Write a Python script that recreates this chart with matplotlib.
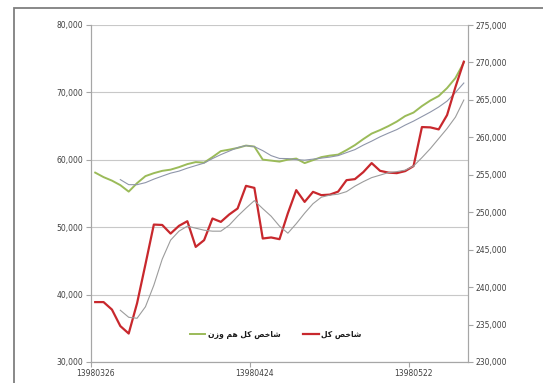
import unicodedata
import numpy as np
import matplotlib
matplotlib.use("Agg")
import matplotlib.pyplot as plt
from matplotlib.patches import Rectangle
from matplotlib.ticker import FuncFormatter, FixedLocator

# ---------------- data ----------------
x_labels = ["13980326", "13980424", "13980522"]
x_label_idx = [0, 19, 38]

label_total = "شاخص کل"
label_equal = "شاخص کل هم وزن"

# شاخص کل (right axis)
total_index = [238000, 238000, 237000, 234800, 233800, 237850, 243050, 248350, 248300, 247150,
               248180, 248800, 245370, 246270, 249160, 248710, 249700, 250500, 253520, 253250,
               246490, 246630, 246400, 249870, 252950, 251380, 252720, 252280, 252350, 252750,
               254280, 254420, 255350, 256560, 255530, 255290, 255220, 255490, 256160, 261370,
               261330, 261060, 262970, 266710, 270100]
# moving average of شاخص کل (right axis)
total_ma = [None, None, None, 236910, 235970, 235840, 237380, 240250, 243730, 246270,
            247470, 248140, 247870, 247600, 247470, 247470, 248270, 249470, 250540, 251550,
            250480, 249470, 248140, 247200, 248470, 249870, 251140, 252010, 252280, 252410,
            252750, 253480, 254080, 254620, 254950, 255290, 255420, 255620, 256160, 257290,
            258490, 259830, 261170, 262700, 264980]
# شاخص کل هم وزن (left axis)
equal_index = [58100, 57430, 56910, 56240, 55280, 56540, 57580, 58020, 58360, 58540,
               58910, 59360, 59660, 59580, 60400, 61290, 61510, 61760, 62110, 61960,
               60030, 59880, 59730, 60030, 60180, 59510, 59950, 60400, 60620, 60770,
               61440, 62180, 63070, 63890, 64410, 65000, 65670, 66490, 67010, 67970,
               68790, 69460, 70640, 72130, 74430]
# moving average of شاخص کل هم وزن (left axis)
equal_ma = [None, None, None, 57060, 56310, 56310, 56610, 57130, 57580, 58020,
            58320, 58760, 59140, 59510, 60180, 60770, 61290, 61810, 62110, 61960,
            61360, 60620, 60200, 60180, 60030, 59950, 60100, 60250, 60400, 60620,
            61070, 61510, 62180, 62770, 63410, 63960, 64480, 65150, 65740, 66410,
            67080, 67820, 68710, 69980, 71390]

left_ticks = [30000, 40000, 50000, 60000, 70000, 80000]
right_ticks = [230000, 235000, 240000, 245000, 250000, 255000, 260000, 265000, 270000, 275000]

# ---------------- helpers ----------------
_NAMES = {'ش': 'SHEEN', 'ا': 'ALEF', 'خ': 'KHAH', 'ص': 'SAD', 'ک': 'KEHEH', 'ل': 'LAM',
          'ه': 'HEH', 'م': 'MEEM', 'و': 'WAW', 'ز': 'ZAIN', 'ن': 'NOON', 'ی': 'FARSI YEH'}
_RIGHT_ONLY = set('اوزدذرژ')


def shape_rtl(s):
    out = []
    for k, c in enumerate(s):
        if c not in _NAMES:
            out.append(c)
            continue
        prev = s[k - 1] if k > 0 else ''
        nxt = s[k + 1] if k + 1 < len(s) else ''
        jp = prev in _NAMES and prev not in _RIGHT_ONLY
        jn = c not in _RIGHT_ONLY and nxt in _NAMES
        form = {(False, False): 'ISOLATED', (True, False): 'FINAL',
                (False, True): 'INITIAL', (True, True): 'MEDIAL'}[(jp, jn)]
        try:
            out.append(unicodedata.lookup(f'ARABIC LETTER {_NAMES[c]} {form} FORM'))
        except KeyError:
            out.append(c)
    return ''.join(reversed(out))


def to_arr(v):
    return np.array([np.nan if a is None else a for a in v], dtype=float)


# ---------------- figure ----------------
plt.rcParams['font.family'] = ['DejaVu Sans']
W, H = 543, 383
fig = plt.figure(figsize=(W / 100, H / 100), dpi=100)
fig.patch.set_facecolor('white')

# outer chart border
fig.patches.append(Rectangle((14 / W, -0.02), 1.1, 1 - 8 / H + 0.02, transform=fig.transFigure,
                             fill=False, edgecolor='#7f7f7f', linewidth=1.3, zorder=0))

L, R, T, B = 91, 468, 25, 362
ax = fig.add_axes([L / W, 1 - B / H, (R - L) / W, (B - T) / H])
ax2 = ax.twinx()

n = len(total_index)
x = np.arange(n)

grid_c = '#c8c8c8'
axis_c = '#a6a6a6'
text_c = '#404040'

ax.plot(x, to_arr(equal_index), color='#9bbb59', lw=1.4, zorder=3, label=shape_rtl(label_equal))
ax.plot(x, to_arr(equal_ma), color='#8f96aa', lw=0.8, zorder=4)
ax2.plot(x, to_arr(total_index), color='#c8282d', lw=1.6, zorder=3, label=shape_rtl(label_total))
ax2.plot(x, to_arr(total_ma), color='#9c9c9c', lw=0.8, zorder=4)

ax.set_xlim(-0.5, n - 0.5)
ax.set_ylim(left_ticks[0], left_ticks[-1])
ax2.set_ylim(right_ticks[0], right_ticks[-1])

fmt = FuncFormatter(lambda v, p: f"{int(v):,}")
ax.yaxis.set_major_locator(FixedLocator(left_ticks))
ax.yaxis.set_major_formatter(fmt)
ax2.yaxis.set_major_locator(FixedLocator(right_ticks))
ax2.yaxis.set_major_formatter(fmt)

ax.set_xticks(x_label_idx)
ax.set_xticklabels(x_labels)
ax.set_xticks([-0.5, 18.5, 37.5], minor=True)
ax.tick_params(axis='x', which='major', length=0, pad=5, labelsize=5.5, labelcolor=text_c)
ax.tick_params(axis='x', which='minor', length=3.5, color=axis_c, width=0.8)

ax.tick_params(axis='y', length=3.5, color=axis_c, width=0.8, labelsize=5.5, labelcolor=text_c, pad=2)
ax2.tick_params(axis='y', length=3.5, color=axis_c, width=0.8, labelsize=5.5, labelcolor=text_c, pad=2)

ax.grid(axis='y', color=grid_c, lw=0.8)
ax.set_axisbelow(True)

for a in (ax, ax2):
    a.spines['top'].set_visible(False)
    for s in ('left', 'right', 'bottom'):
        a.spines[s].set_color(axis_c)
        a.spines[s].set_linewidth(0.8)

h1, l1 = ax.get_legend_handles_labels()
h2, l2 = ax2.get_legend_handles_labels()
leg = ax2.legend(h1 + h2, l1 + l2, loc='center', bbox_to_anchor=(0.49, 0.083), ncol=2,
                 frameon=False, fontsize=5.5, handlelength=2.0, handletextpad=0.3,
                 columnspacing=3.0)
for t in leg.get_texts():
    t.set_color('#1a1a1a')
    t.set_fontweight('bold')

fig.savefig('out.png', dpi=100)
